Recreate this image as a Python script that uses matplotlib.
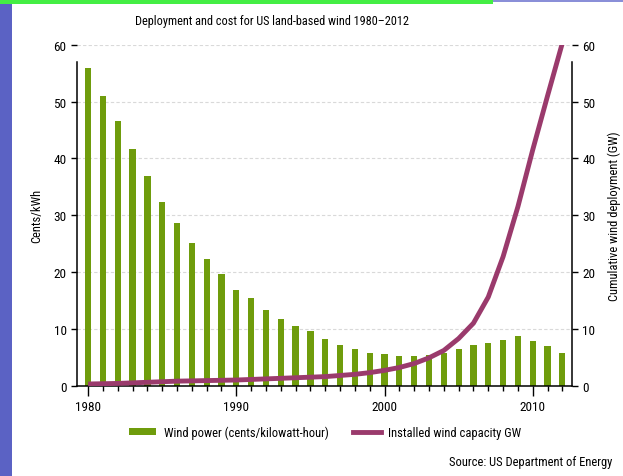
import matplotlib
matplotlib.use("Agg")
import matplotlib.pyplot as plt
from matplotlib import font_manager
from matplotlib.patches import Rectangle, Patch
from matplotlib.lines import Line2D
from matplotlib.ticker import MultipleLocator

# the original uses a narrow font, take the narrowest one we have
families = []
for name in ['Liberation Sans Narrow', 'DejaVu Sans Condensed', 'Roboto Condensed',
             'Open Sans Condensed', 'Noto Sans Condensed']:
    try:
        font_manager.findfont(font_manager.FontProperties(family=name), fallback_to_default=False)
        families.append(name)
    except Exception:
        pass
plt.rcParams['font.family'] = families + ['DejaVu Sans']

years = list(range(1980, 2013))
cost_cents = [55.9, 51.0, 46.5, 41.7, 36.9, 32.3, 28.7, 25.1, 22.3, 19.6,
              16.9, 15.4, 13.4, 11.8, 10.5, 9.6, 8.2, 7.2, 6.5, 5.7,
              5.5, 5.2, 5.2, 5.4, 5.8, 6.4, 7.1, 7.6, 8.1, 8.8,
              7.8, 6.9, 5.7]
capacity_gw = [0.3, 0.35, 0.4, 0.5, 0.6, 0.7, 0.8, 0.85, 0.9, 0.95,
               1.0, 1.1, 1.2, 1.3, 1.4, 1.5, 1.6, 1.8, 2.0, 2.3,
               2.7, 3.2, 3.9, 4.9, 6.2, 8.3, 11.0, 15.6, 22.7, 31.5,
               41.5, 51.0, 60.3]
decade_ticks = [1980, 1990, 2000, 2010]
y_ticks = [0, 10, 20, 30, 40, 50, 60]

green = '#6f9c0c'
purple = '#9a3a6c'
fs = 9

fig = plt.figure(figsize=(6.23, 4.77), dpi=100)
fig.patch.set_facecolor('white')
# slide background bits
fig.patches.append(Rectangle((0, 0), 12 / 623, 1, transform=fig.transFigure,
                             facecolor='#5b62c4', edgecolor='none', zorder=-5))
fig.patches.append(Rectangle((0, 1 - 5 / 477), 493 / 623, 5 / 477, transform=fig.transFigure,
                             facecolor='#44ee44', edgecolor='none', zorder=-4))
fig.patches.append(Rectangle((493 / 623, 1 - 3 / 477), 130 / 623, 3 / 477, transform=fig.transFigure,
                             facecolor='#8a8fd8', edgecolor='none', zorder=-4))

ax = fig.add_axes([77 / 623, 1 - 386.7 / 477, 495 / 623, 341 / 477])
ax2 = ax.twinx()

ax.bar(years, cost_cents, width=0.42, color=green, zorder=2)
ax2.plot(years, capacity_gw, color=purple, lw=3.5, solid_capstyle='butt',
         solid_joinstyle='round', zorder=3)

for a in (ax, ax2):
    a.set_ylim(0, 60)
    a.set_yticks(y_ticks)
    a.set_xlim(1979.25, 2012.65)
    a.spines['top'].set_visible(False)
ax.set_xticks(decade_ticks)
ax.xaxis.set_minor_locator(MultipleLocator(1))
ax.tick_params(axis='x', which='major', length=7, width=1, labelsize=9.5, pad=3)
ax.tick_params(axis='x', which='minor', length=3.5, width=1)
ax.tick_params(axis='y', length=4, width=1, labelsize=9.5)
ax2.tick_params(axis='y', length=4, width=1, labelsize=9.5)

ax.spines['right'].set_visible(False)
ax2.spines['left'].set_visible(False)
ax2.spines['bottom'].set_visible(False)
ax.spines['left'].set_bounds(0, 57)
ax2.spines['right'].set_bounds(0, 57)
for s in ('left', 'bottom'):
    ax.spines[s].set_linewidth(1.1)
ax2.spines['right'].set_linewidth(1.1)

ax.yaxis.grid(True, linestyle=(0, (3, 2)), color='#d9d9d9', lw=0.8, zorder=0)
ax.set_axisbelow(True)

ax.set_ylabel('Cents/kWh', fontsize=fs, labelpad=7)
ax2.set_ylabel('Cumulative wind deployment (GW)', fontsize=fs, labelpad=9)

fig.text(272 / 623, 1 - 22 / 477, 'Deployment and cost for US land-based wind 1980\u20132012',
         ha='center', va='center', fontsize=8.8)

handles = [Patch(facecolor=green, edgecolor='none'),
           Line2D([0], [0], color=purple, lw=3.5)]
fig.legend(handles, ['Wind power (cents/kilowatt-hour)', 'Installed wind capacity GW'],
           loc='center', bbox_to_anchor=(325 / 623, 1 - 433 / 477), ncol=2,
           frameon=False, fontsize=fs, handlelength=2.2, handleheight=0.45,
           columnspacing=2.0, handletextpad=0.6)

fig.text(612 / 623, 1 - 463 / 477, 'Source: US Department of Energy',
         ha='right', va='center', fontsize=fs)

fig.savefig('out.png', dpi=100)
